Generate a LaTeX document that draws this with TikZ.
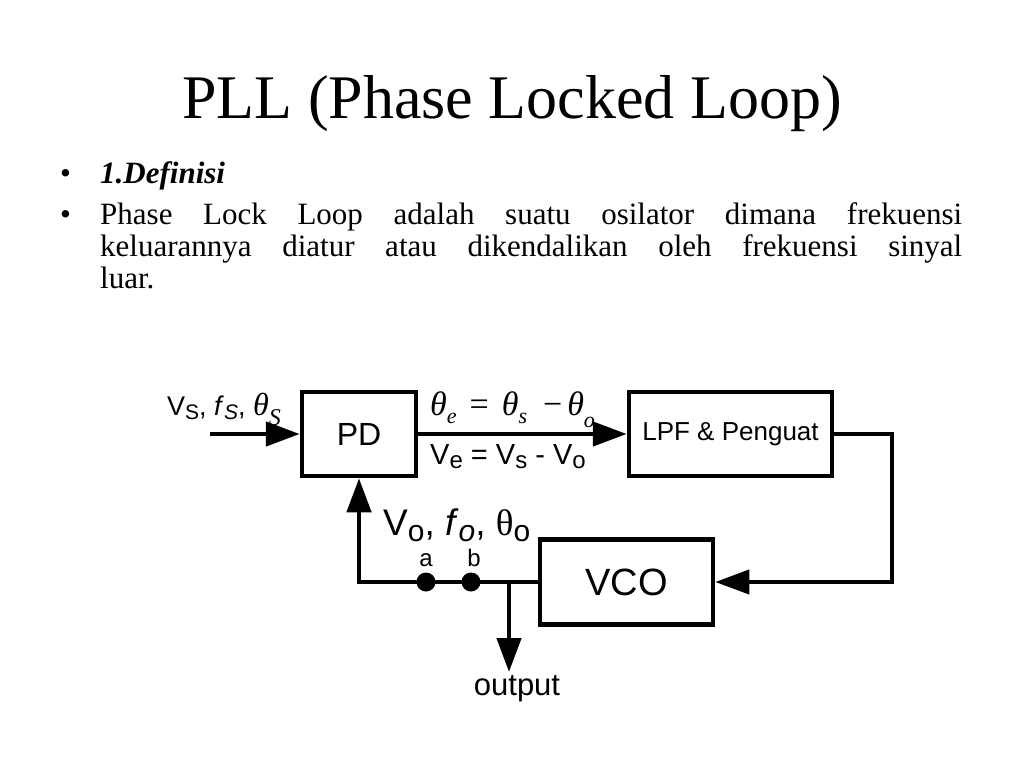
\documentclass[tikz,border=0pt]{standalone}
\usepackage{fontspec}
\setmainfont{Liberation Serif}
\newfontfamily\dsans{Liberation Sans}
\usetikzlibrary{arrows.meta}
\begin{document}
\begin{tikzpicture}[x=1pt,y=-1pt,
  blk/.style={draw,line width=4.5pt,inner sep=0pt,font=\dsans},
  wire/.style={line width=4.5pt},
  thinwire/.style={line width=4pt},
  bigarrow/.style={-{Triangle[length=34pt,width=24pt]}},
  dotnode/.style={circle,fill,inner sep=0pt,minimum size=19pt},
  lbl/.style={inner sep=0pt,anchor=base west},
  body/.style={inner sep=0pt,anchor=base west,font=\fontsize{31}{30}\selectfont},
  ctr/.style={inner sep=0pt}
]
\useasboundingbox (0,0) rectangle (1024,768);
\fill[white] (0,0) rectangle (1024,768);

% title and text
\node[ctr,anchor=base] (title) at (512,118) {\fontsize{62}{62}\selectfont PLL (Phase Locked Loop)};
\node[body] (b1) at (60,183) {•};
\node[body] (t1) at (100,183) {\bfseries\itshape 1.Definisi};
\node[body] (b2) at (60,224) {•};
\node[body] (t2) at (100,224) {\makebox[862pt][s]{Phase Lock Loop adalah suatu osilator dimana frekuensi}};
\node[body] (t3) at (100,256) {\makebox[862pt][s]{keluarannya diatur atau dikendalikan oleh frekuensi sinyal}};
\node[body] (t4) at (100,288) {luar.};

% blocks
\node[blk,minimum width=114pt,minimum height=84pt,font=\dsans\fontsize{32}{32}\selectfont] (pd) at (359,434) {PD};
\node[blk,minimum width=203pt,minimum height=84pt,font=\dsans\fontsize{26}{26}\selectfont] (lpf) at (730.5,434) {LPF \& Penguat};
\node[blk,minimum width=173pt,minimum height=85pt,font=\dsans\fontsize{38}{38}\selectfont] (vco) at (626.5,582) {VCO};

% coordinates
\coordinate (in) at (210,434);
\coordinate (rt) at (892,434);
\coordinate (rb) at (892,582);
\coordinate (lb) at (359,582);
\coordinate (tap) at (509,582);
\coordinate (outend) at (509,672);

% connectors
\draw[wire,bigarrow] (in) -- (pd.west);
\draw[wire,bigarrow] (pd.east) -- (lpf.west);
\draw[thinwire,bigarrow] (lpf.east) -- (rt) -- (rb) -- (vco.east);
\draw[wire,bigarrow] (vco.west) -- (lb) -- (pd.south);
\draw[wire,bigarrow] (tap) -- (outend);

% dots
\node[dotnode] (da) at (426,582) {};
\node[dotnode] (db) at (471,582) {};
\node[ctr,font=\dsans\fontsize{24}{24}\selectfont,anchor=base] (la) at (426,566) {a};
\node[ctr,font=\dsans\fontsize{24}{24}\selectfont,anchor=base] (lb2) at (474,566) {b};
\node[ctr,font=\dsans\fontsize{31}{31}\selectfont,anchor=base] (out) at (517,695) {output};

% labels
\node[lbl] (vin) at (167,415) {{\dsans\fontsize{27}{27}\selectfont V\raisebox{-4pt}{\fontsize{21}{21}\selectfont S}, \textit{f}\raisebox{-4pt}{\fontsize{21}{21}\selectfont\itshape S}, }{\fontsize{32}{32}\selectfont\itshape θ\raisebox{-10pt}{\fontsize{24}{24}\selectfont S}}};

\node[lbl] (the) at (430,415) {\fontsize{34}{34}\selectfont\itshape θ\raisebox{-8pt}{\fontsize{22}{22}\selectfont e}\hspace{13pt}{\upshape =}\hspace{13pt}θ\raisebox{-8pt}{\fontsize{22}{22}\selectfont s}\hspace{16pt}{\upshape −}\hspace{5pt}θ\raisebox{-12pt}{\fontsize{22}{22}\selectfont o}};

\node[lbl] (ve) at (430,464) {\dsans\fontsize{29}{29}\selectfont V\raisebox{-4pt}{\fontsize{24}{24}\selectfont e} = V\raisebox{-4pt}{\fontsize{24}{24}\selectfont s} - V\raisebox{-4pt}{\fontsize{24}{24}\selectfont o}};

\node[lbl] (vo) at (383,535) {\dsans\fontsize{37}{37}\selectfont V\raisebox{-6pt}{\fontsize{30}{30}\selectfont o}, \textit{f}\raisebox{-6pt}{\fontsize{30}{30}\selectfont\itshape o}, {\rmfamily θ}\raisebox{-6pt}{\fontsize{30}{30}\selectfont o}};
\end{tikzpicture}
\end{document}
